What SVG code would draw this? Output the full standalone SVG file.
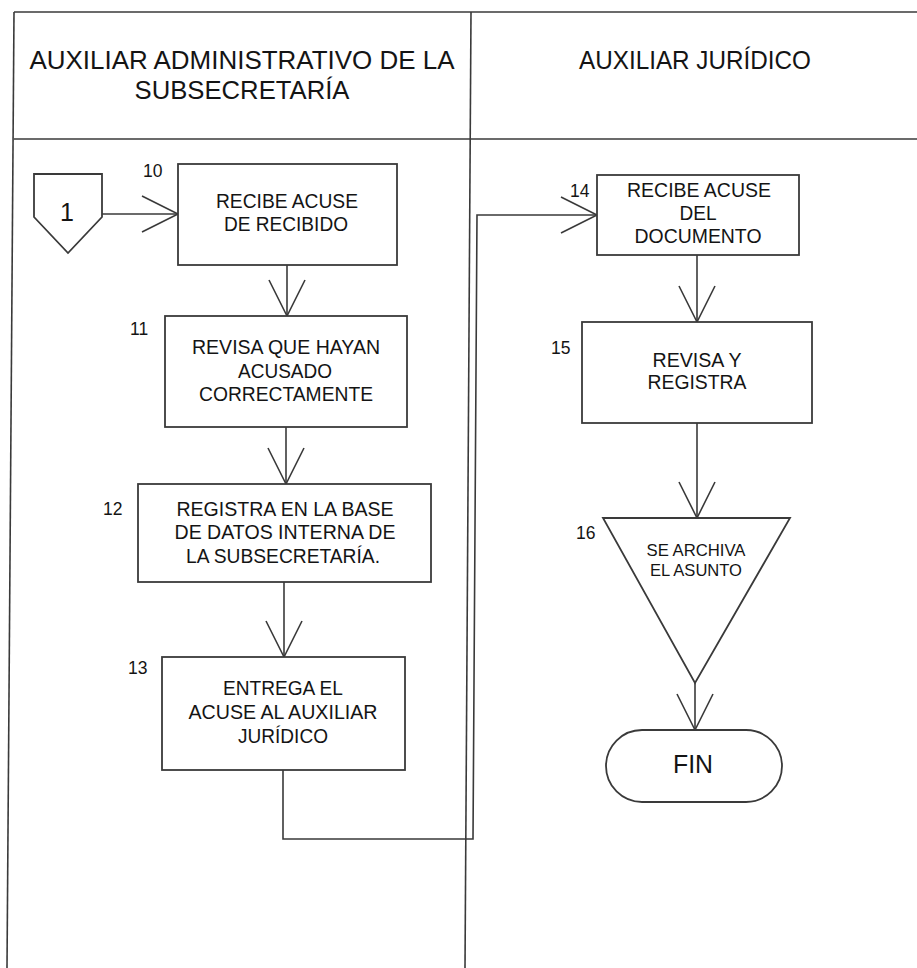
<svg xmlns="http://www.w3.org/2000/svg" width="917" height="968" viewBox="0 0 917 968">
  <style>
    .lane { fill: none; stroke: #3a3a3a; stroke-width: 1.6; }
    .shape { fill: #ffffff; stroke: #3a3a3a; stroke-width: 1.8; }
    .flow { fill: none; stroke: #3a3a3a; stroke-width: 1.6; }
    text { font-family: "Liberation Sans", Arial, sans-serif; fill: #141414; }
    .hdr { font-size: 26.5px; text-anchor: middle; }
    .lbl { font-size: 20.5px; text-anchor: middle; }
    .num { font-size: 17.5px; }
    .small { font-size: 16.5px; text-anchor: middle; }
  </style>
  <defs>
    <marker id="vee" markerUnits="userSpaceOnUse" markerWidth="40" markerHeight="40" refX="36" refY="19" orient="auto" overflow="visible">
      <path d="M0,1 L36,19 L0,37" fill="none" stroke="#3a3a3a" stroke-width="1.6"/>
    </marker>
  </defs>

  <rect x="0" y="0" width="917" height="968" fill="#ffffff"/>

  <!-- swimlane frame -->
  <g id="lanes">
    <line class="lane" x1="14" y1="12" x2="917" y2="12"/>
    <line class="lane" x1="14" y1="139" x2="917" y2="139"/>
    <line class="lane" x1="14" y1="12" x2="7" y2="968"/>
    <line class="lane" x1="471" y1="12" x2="465" y2="968"/>
    <text class="hdr" x="242" y="69" textLength="425" lengthAdjust="spacingAndGlyphs">AUXILIAR ADMINISTRATIVO DE LA</text>
    <text class="hdr" x="242" y="99" textLength="215" lengthAdjust="spacingAndGlyphs">SUBSECRETARÍA</text>
    <text class="hdr" x="695" y="69" textLength="232" lengthAdjust="spacingAndGlyphs">AUXILIAR JURÍDICO</text>
  </g>

  <!-- connectors -->
  <g id="connectors">
    <path class="flow" d="M102,214 H178" marker-end="url(#vee)"/>
    <path class="flow" d="M287,265 V316" marker-end="url(#vee)"/>
    <path class="flow" d="M286,427 V484" marker-end="url(#vee)"/>
    <path class="flow" d="M284,582 V657" marker-end="url(#vee)"/>
    <path class="flow" d="M283,770 V839 H473 L477,215 H597" marker-end="url(#vee)"/>
    <path class="flow" d="M697,255 V322" marker-end="url(#vee)"/>
    <path class="flow" d="M697,423 V518" marker-end="url(#vee)"/>
    <path class="flow" d="M695,683 V730" marker-end="url(#vee)"/>
  </g>

  <!-- off-page connector -->
  <g id="conector-1">
    <polygon class="shape" points="34,174 102,174 102,217 68,253 34,217"/>
    <text x="67" y="221" font-size="25" text-anchor="middle">1</text>
  </g>

  <g id="paso-10">
    <rect class="shape" x="178" y="164" width="219" height="101"/>
    <text class="num" x="143" y="177">10</text>
    <text class="lbl" x="287" y="208" textLength="142" lengthAdjust="spacingAndGlyphs">RECIBE ACUSE</text>
    <text class="lbl" x="286" y="231" textLength="124" lengthAdjust="spacingAndGlyphs">DE RECIBIDO</text>
  </g>

  <g id="paso-11">
    <rect class="shape" x="165" y="316" width="242" height="111"/>
    <text class="num" x="130" y="335">11</text>
    <text class="lbl" x="286" y="354" textLength="188" lengthAdjust="spacingAndGlyphs">REVISA QUE HAYAN</text>
    <text class="lbl" x="285" y="378" textLength="94" lengthAdjust="spacingAndGlyphs">ACUSADO</text>
    <text class="lbl" x="286" y="401" textLength="174" lengthAdjust="spacingAndGlyphs">CORRECTAMENTE</text>
  </g>

  <g id="paso-12">
    <rect class="shape" x="138" y="484" width="293" height="98"/>
    <text class="num" x="103" y="515">12</text>
    <text class="lbl" x="285" y="516" textLength="217" lengthAdjust="spacingAndGlyphs">REGISTRA EN LA BASE</text>
    <text class="lbl" x="285" y="539" textLength="221" lengthAdjust="spacingAndGlyphs">DE DATOS INTERNA DE</text>
    <text class="lbl" x="283" y="563" textLength="194" lengthAdjust="spacingAndGlyphs">LA SUBSECRETARÍA.</text>
  </g>

  <g id="paso-13">
    <rect class="shape" x="162" y="657" width="243" height="113"/>
    <text class="num" x="128" y="674">13</text>
    <text class="lbl" x="283" y="695" textLength="120" lengthAdjust="spacingAndGlyphs">ENTREGA EL</text>
    <text class="lbl" x="283" y="719" textLength="189" lengthAdjust="spacingAndGlyphs">ACUSE AL AUXILIAR</text>
    <text class="lbl" x="283" y="743" textLength="90" lengthAdjust="spacingAndGlyphs">JURÍDICO</text>
  </g>

  <g id="paso-14">
    <rect class="shape" x="597" y="175" width="202" height="80"/>
    <text class="num" x="570" y="197">14</text>
    <text class="lbl" x="699" y="197" textLength="144" lengthAdjust="spacingAndGlyphs">RECIBE ACUSE</text>
    <text class="lbl" x="698" y="220" textLength="37" lengthAdjust="spacingAndGlyphs">DEL</text>
    <text class="lbl" x="698" y="243" textLength="127" lengthAdjust="spacingAndGlyphs">DOCUMENTO</text>
  </g>

  <g id="paso-15">
    <rect class="shape" x="582" y="322" width="230" height="101"/>
    <text class="num" x="551" y="354">15</text>
    <text class="lbl" x="697" y="367" textLength="89" lengthAdjust="spacingAndGlyphs">REVISA Y</text>
    <text class="lbl" x="697" y="389" textLength="99" lengthAdjust="spacingAndGlyphs">REGISTRA</text>
  </g>

  <g id="paso-16">
    <polygon class="shape" points="603,518 790,518 695,683"/>
    <text class="num" x="576" y="539">16</text>
    <text class="small" x="696" y="556" textLength="99" lengthAdjust="spacingAndGlyphs">SE ARCHIVA</text>
    <text class="small" x="696" y="576" textLength="92" lengthAdjust="spacingAndGlyphs">EL ASUNTO</text>
  </g>

  <g id="fin">
    <rect class="shape" x="606" y="730" width="176" height="72" rx="36" ry="36"/>
    <text x="693" y="773" font-size="26" text-anchor="middle" textLength="40" lengthAdjust="spacingAndGlyphs">FIN</text>
  </g>
</svg>
